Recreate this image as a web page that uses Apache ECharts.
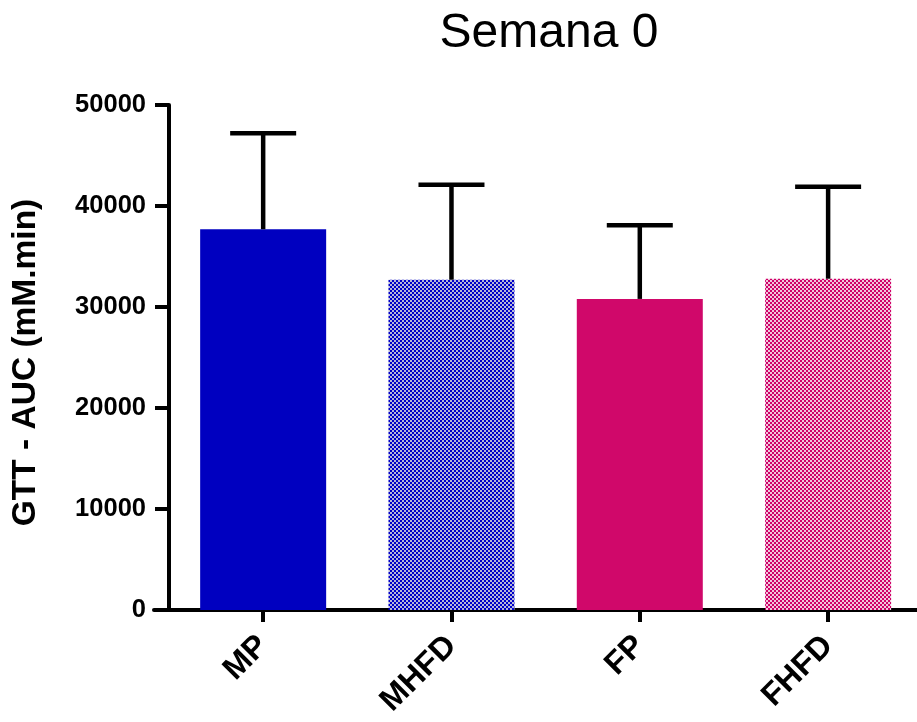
<!DOCTYPE html>
<html><head><meta charset="utf-8">
<script src="https://cdn.jsdelivr.net/npm/echarts@6/dist/echarts.min.js"></script>
<style>html,body{margin:0;padding:0;background:#fff}#c{width:917px;height:722px}</style>
</head><body><div id="c"></div>
<script>
const categories = ['MP', 'MHFD', 'FP', 'FHFD'];
const means = [37700, 32700, 30800, 32800];
const sems = [9500, 9400, 7300, 9100];
const yTicks = [0, 10000, 20000, 30000, 40000, 50000];
const titleText = 'Semana 0';
const yName = 'GTT - AUC (mM.min)';

function checker(a, b) {
  const c = document.createElement('canvas');
  c.width = 4; c.height = 4;
  const x = c.getContext('2d');
  x.fillStyle = b; x.fillRect(0, 0, 4, 4);
  x.fillStyle = a; x.fillRect(0, 0, 2, 2); x.fillRect(2, 2, 2, 2);
  return { image: c, repeat: 'repeat' };
}
const fills = [
  '#0000c0',
  checker('#0000c8', '#b8b8d8'),
  '#d0086a',
  checker('#d00068', '#f0c8dc')
];
const idx = categories.map((c, i) => i);
const FF = 'Liberation Sans, Arial, sans-serif';
const chart = echarts.init(document.getElementById('c'), null, { renderer: 'canvas' });
chart.setOption({
  animation: false,
  title: { text: titleText, left: 544, textAlign: 'center', top: 5,
    textStyle: { fontFamily: FF, fontSize: 48, fontWeight: 'normal', color: '#000' } },
  grid: [
    { left: 169, right: 0, top: 105, bottom: 112 },
    { left: 154, right: 0, top: 105, bottom: 112 }
  ],
  xAxis: [
    { type: 'value', gridIndex: 0, min: -0.5, max: 3.472,
      axisLine: { show: false, onZero: false },
      splitLine: { show: false },
      axisTick: { show: true, customValues: idx, length: 12, lineStyle: { color: '#000', width: 4 } },
      axisLabel: { customValues: idx, formatter: v => categories[Math.round(v)],
        rotate: 45, margin: 31, fontFamily: FF, fontSize: 32, fontWeight: 'bold', color: '#000' } },
    { type: 'value', gridIndex: 1, min: 0, max: 1,
      axisLine: { show: true, onZero: false, lineStyle: { color: '#000', width: 4 } },
      axisTick: { show: false }, axisLabel: { show: false }, splitLine: { show: false } }
  ],
  yAxis: [
    { type: 'value', gridIndex: 0, min: 0, max: 50000, interval: 10000,
      name: yName, nameLocation: 'middle', nameGap: 126,
      nameTextStyle: { fontFamily: FF, fontSize: 33.5, fontWeight: 'bold', color: '#000',
        padding: [0, 10, 0, 0] },
      axisLine: { show: true, onZero: false, lineStyle: { color: '#000', width: 4 } },
      axisTick: { show: true, length: 14, lineStyle: { color: '#000', width: 4 } },
      axisLabel: { margin: 23, fontFamily: FF, fontSize: 25.5, fontWeight: 'bold', color: '#000',
        formatter: v => String(v) },
      splitLine: { show: false } },
    { type: 'value', gridIndex: 1, min: 0, max: 1, show: false }
  ],
  series: [
    { type: 'bar', xAxisIndex: 0, yAxisIndex: 0, barWidth: 126, z: 2,
      data: means.map((v, i) => ({ value: [i, v], itemStyle: { color: fills[i] } })) },
    { type: 'custom', xAxisIndex: 0, yAxisIndex: 0, z: 3,
      data: means.map((v, i) => [i, v, v + sems[i]]),
      renderItem: function (params, api) {
        const lo = api.coord([api.value(0), api.value(1)]);
        const hi = api.coord([api.value(0), api.value(2)]);
        const hw = 33;
        const st = { stroke: '#000', lineWidth: 4.5 };
        return { type: 'group', children: [
          { type: 'line', shape: { x1: lo[0], y1: lo[1], x2: hi[0], y2: hi[1] }, style: st },
          { type: 'line', shape: { x1: hi[0] - hw, y1: hi[1], x2: hi[0] + hw, y2: hi[1] }, style: st }
        ] };
      } }
  ]
});
</script></body></html>
